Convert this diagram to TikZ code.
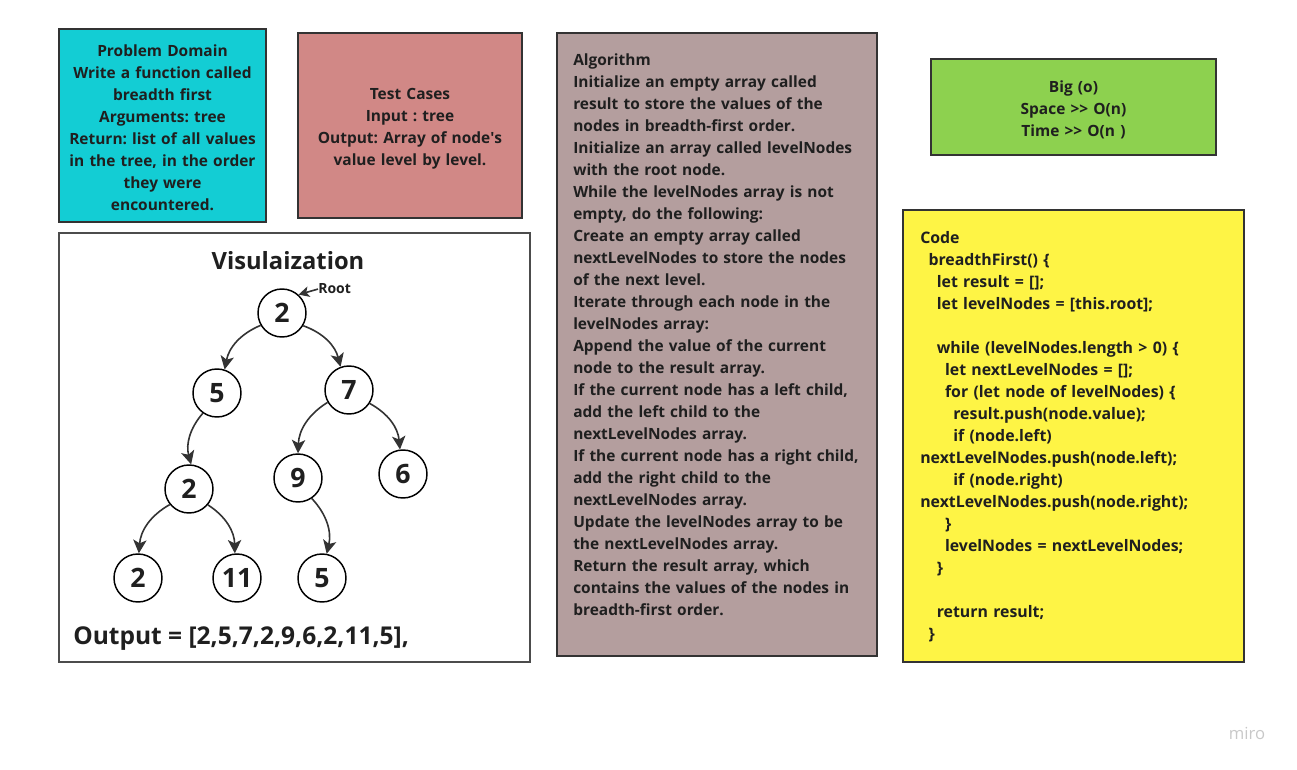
\documentclass[tikz,border=0pt]{standalone}
\usepackage{fontspec}
\setmainfont{Open Sans}
\usetikzlibrary{arrows.meta}
\definecolor{pdcyan}{HTML}{13CDD4}
\definecolor{tcpink}{HTML}{D18886}
\definecolor{algmauve}{HTML}{B49E9E}
\definecolor{bigogreen}{HTML}{8DD14F}
\definecolor{codeyellow}{HTML}{FEF445}
\definecolor{bordc}{HTML}{333333}
\definecolor{textc}{HTML}{1F1F1F}
\definecolor{edgec}{HTML}{333333}
\definecolor{miroc}{HTML}{C8C8C8}
\newcommand\ind[1]{\hspace*{\dimexpr #1\dimexpr 6.2pt\relax\relax}}
\frenchspacing
\begin{document}
\begin{tikzpicture}[x=0.75pt,y=-0.75pt,
  panel/.style={draw=bordc,line width=1.4pt},
  body/.style={inner sep=0pt,text=textc,font=\fontsize{11.6}{16.5}\selectfont\bfseries},
  codetxt/.style={inner sep=0pt,text=textc,font=\fontsize{11.9}{16.5}\selectfont\bfseries},
  tnode/.style={circle,draw=black,line width=1.1pt,minimum size=36pt,inner sep=0pt,text=textc,font=\fontsize{20}{20}\selectfont\bfseries},
  edge/.style={draw=edgec,line width=1.2pt,-{Stealth[length=10pt,width=10pt,inset=2.5pt]}}]
\useasboundingbox (0,0) rectangle (1297,770);
% panels
\filldraw[panel,fill=pdcyan] (59,29) rectangle (266,222);
\filldraw[panel,fill=tcpink] (298,33) rectangle (522,218);
\draw[panel,draw=black!70] (59,233) rectangle (530,662);
\filldraw[panel,fill=algmauve] (557,33) rectangle (877,656);
\filldraw[panel,fill=bigogreen] (931,59) rectangle (1216,155);
\filldraw[panel,fill=codeyellow] (903,210) rectangle (1244,662);
% texts
\node[body,text width=200pt,align=center,anchor=base] (pd) at (162.5,56.5) {Problem Domain\\Write a function called\\breadth first\\Arguments: tree\\Return: list of all values\\in the tree, in the order\\they were\\encountered.};
\node[body,text width=200pt,align=center,anchor=base] (tc) at (410,99.5) {Test Cases\\Input : tree\\Output: Array of node\textquotesingle s\\value level by level.};
\node[body,text width=200pt,align=center,anchor=base] (bo) at (1073.5,92.5) {Big (o)\\Space >{}> O(n)\\Time >{}> O(n )};
\node[body,text width=235pt,align=left,anchor=base west] (alg) at (573,65.5) {Algorithm\\
Initialize an empty array called\\
result to store the values of the\\
nodes in breadth-first order.\\
Initialize an array called levelNodes\\
with the root node.\\
While the levelNodes array is not\\
empty, do the following:\\
Create an empty array called\\
nextLevelNodes to store the nodes\\
of the next level.\\
Iterate through each node in the\\
levelNodes array:\\
Append the value of the current\\
node to the result array.\\
If the current node has a left child,\\
add the left child to the\\
nextLevelNodes array.\\
If the current node has a right child,\\
add the right child to the\\
nextLevelNodes array.\\
Update the levelNodes array to be\\
the nextLevelNodes array.\\
Return the result array, which\\
contains the values of the nodes in\\
breadth-first order.};
\node[codetxt,text width=245pt,align=left,anchor=base west] (code) at (920,243.5) {Code\\
\ind{1}breadthFirst() \{\\
\ind{2}let result = [];\\
\ind{2}let levelNodes = [this.root];\\
\mbox{}\\
\ind{2}while (levelNodes.length > 0) \{\\
\ind{3}let nextLevelNodes = [];\\
\ind{3}for (let node of levelNodes) \{\\
\ind{4}result.push(node.value);\\
\ind{4}if (node.left)\\
nextLevelNodes.push(node.left);\\
\ind{4}if (node.right)\\
nextLevelNodes.push(node.right);\\
\ind{3}\}\\
\ind{3}levelNodes = nextLevelNodes;\\
\ind{2}\}\\
\mbox{}\\
\ind{2}return result;\\
\ind{1}\}};
% visualization
\node[inner sep=0pt,text=textc,font=\fontsize{17.8}{17.8}\selectfont\bfseries,anchor=base] (vtitle) at (288,270) {Visulaization};
\node[inner sep=0pt,text=textc,font=\fontsize{18.4}{18.4}\selectfont\bfseries,anchor=base west] (out) at (73,644) {Output = [2,5,7,2,9,6,2,11,5],};
\node[tnode] (r) at (282,313) {2};
\node[tnode] (a) at (217,393) {5};
\node[tnode] (b) at (349,390) {7};
\node[tnode] (c) at (189,489) {2};
\node[tnode] (d) at (298,478) {9};
\node[tnode] (e) at (403,474) {6};
\node[tnode] (f) at (138,578) {2};
\node[tnode] (g) at (237,578) {11};
\node[tnode] (h) at (322,578) {5};
\node[inner sep=0pt,text=textc,font=\fontsize{10.5}{10.5}\selectfont\bfseries,anchor=base west] (root) at (318,294) {Root};
\draw[edgec,line width=1.2pt,-{Stealth[length=8pt,width=8pt,inset=2pt]}] (root.west) -- (r.48);
\draw[edge] (r.210) to[bend right=28] (a.72);
\draw[edge] (r.329) to[bend left=28] (b.110);
\draw[edge] (a.235) to[bend right=28] (c.85);
\draw[edge] (c.219) to[bend right=28] (f.88);
\draw[edge] (c.320) to[bend left=28] (g.95);
\draw[edge] (b.210) to[bend right=28] (d.90);
\draw[edge] (b.327) to[bend left=28] (e.97);
\draw[edge] (d.304) to[bend left=28] (h.79);
\node[inner sep=0pt,text=miroc,font=\fontsize{12.5}{12.5}\selectfont,anchor=base] (miro) at (1247,739) {miro};
\end{tikzpicture}
\end{document}
